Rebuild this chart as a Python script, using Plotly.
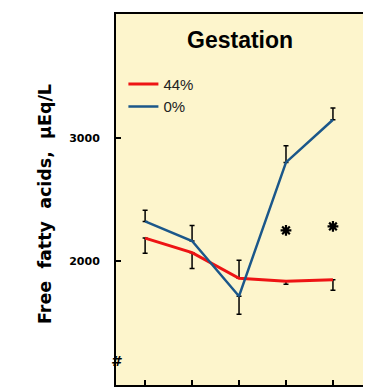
import plotly.graph_objects as go

periods = [1, 2, 3, 4, 5]
fat44 = [2188, 2070, 1863, 1839, 1852]
fat44_err_plus = [0, 0, 145, 0, 0]
fat44_err_minus = [123, 127, 0, 24, 86]
fat0 = [2323, 2164, 1718, 2800, 3145]
fat0_err_plus = [90, 126, 0, 135, 95]
fat0_err_minus = [0, 0, 145, 0, 0]
sig_x = [4, 5]
sig_y = [2250, 2282]
y_ticks = [2000, 3000]

# page body has an 8px margin: figure is placed at (8, 8)
W, H = 363, 383
L, R, T, B = 108, 8, 4, 6
PW, PH = W - L - R, H - T - B

fig = go.Figure()
fig.add_trace(go.Scatter(
    x=periods, y=fat44, mode="lines", name="44%",
    line=dict(color="#ee1414", width=3),
    error_y=dict(type="data", symmetric=False, array=fat44_err_plus,
                 arrayminus=fat44_err_minus, color="black", thickness=1.5, width=2.5),
))
fig.add_trace(go.Scatter(
    x=periods, y=fat0, mode="lines", name="0%",
    line=dict(color="#1b578a", width=2.5),
    error_y=dict(type="data", symmetric=False, array=fat0_err_plus,
                 arrayminus=fat0_err_minus, color="black", thickness=1.5, width=2.5),
))
fig.add_trace(go.Scatter(
    x=sig_x, y=sig_y, mode="markers", showlegend=False,
    marker=dict(symbol="asterisk-open", size=9, color="black",
                line=dict(color="black", width=2.2)),
))

fig.update_layout(
    width=W, height=H,
    margin=dict(l=L, r=R, t=T, b=B),
    paper_bgcolor="white", plot_bgcolor="#fdf5cc",
    font=dict(family="Liberation Sans, Arial, sans-serif", color="black"),
    legend=dict(x=0.03, y=1 - (66 - 12) / PH, xanchor="left", yanchor="top",
                bgcolor="rgba(0,0,0,0)", font=dict(size=15, color="#222"),
                tracegroupgap=0),
    showlegend=True,
)
fig.update_xaxes(range=[0.38, 5.64], showgrid=False, zeroline=False,
                 showline=True, mirror=True, linecolor="black", linewidth=2,
                 tickmode="array", tickvals=periods, ticktext=["" for _ in periods],
                 ticks="inside", ticklen=5, tickwidth=2, tickcolor="black")
fig.update_yaxes(range=[1000, 4000], showgrid=False, zeroline=False,
                 showline=True, mirror=True, linecolor="black", linewidth=2,
                 tickmode="array", tickvals=y_ticks, ticktext=[f"<b>{v}</b>" for v in y_ticks],
                 ticks="inside", ticklen=5, tickwidth=1.5, tickcolor="black",
                 tickfont=dict(size=11, family="DejaVu Sans"),
                 ticklabelstandoff=12)

fig.add_annotation(text="<b>Gestation</b>", xref="paper", yref="paper",
                   x=0.5, y=1 - (38 - 12) / PH, xanchor="center", yanchor="middle",
                   showarrow=False, font=dict(size=23, family="Liberation Sans, Arial"))
sp = "\u00a0" * 2
fig.add_annotation(text=f"<b>Free{sp}fatty{sp}acids,{sp}\u00b5Eq/L</b>",
                   xref="paper", yref="paper", x=(45 - 116) / PW,
                   y=1 - (203 - 12) / PH, textangle=-90,
                   xanchor="center", yanchor="middle", showarrow=False,
                   font=dict(size=17.5, family="DejaVu Sans"))
fig.add_annotation(text="<b><i>#</i></b>", xref="paper", yref="y", x=0, y=1194,
                   xanchor="center", yanchor="middle", showarrow=False,
                   font=dict(size=14, family="DejaVu Sans"))

fig.write_html("out.html")
